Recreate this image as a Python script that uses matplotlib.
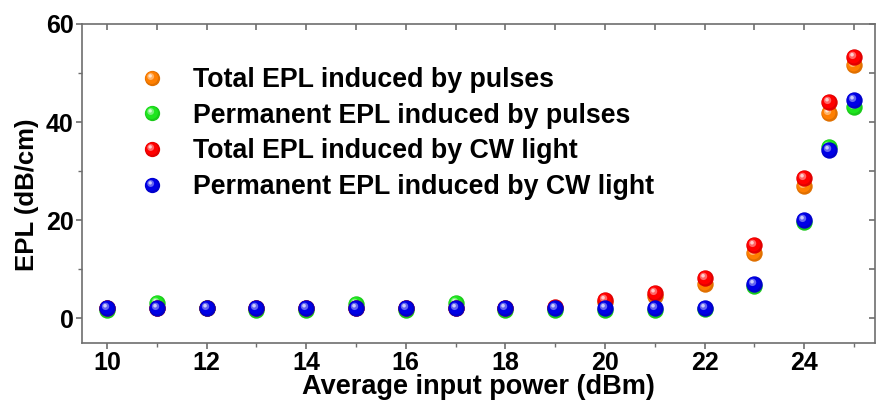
import matplotlib
matplotlib.use("Agg")
import matplotlib.pyplot as plt
from matplotlib.markers import MarkerStyle
from matplotlib.transforms import Affine2D
from matplotlib.lines import Line2D
from matplotlib.legend_handler import HandlerTuple
from matplotlib.ticker import MultipleLocator
import numpy as np

# ---- data ----
power = [10, 11, 12, 13, 14, 15, 16, 17, 18, 19, 20, 21, 22, 23, 24, 24.5, 25]
total_pulse = [2.0, 2.0, 2.0, 2.0, 2.0, 2.0, 2.0, 2.0, 2.0, 2.0, 3.3, 4.5, 7.0, 13.3, 26.9, 41.8, 51.6]
perm_pulse = [1.6, 3.0, 2.0, 1.6, 1.6, 2.8, 1.6, 3.0, 1.7, 1.7, 1.7, 1.7, 1.8, 6.6, 19.5, 34.8, 43.0]
total_cw = [2.0, 2.0, 2.0, 2.0, 2.0, 2.0, 2.0, 2.0, 2.0, 2.3, 3.7, 5.1, 8.2, 14.8, 28.5, 44.0, 53.3]
perm_cw = [2.0, 2.0, 2.0, 2.0, 2.0, 2.0, 2.0, 2.0, 2.0, 2.0, 2.0, 2.0, 2.0, 7.0, 19.9, 34.2, 44.5]

labels = ["Total EPL induced by pulses",
          "Permanent EPL induced by pulses",
          "Total EPL induced by CW light",
          "Permanent EPL induced by CW light"]
colors = ["#ff7f00", "#1ee61e", "#ff0000", "#0000e6"]
series = [total_pulse, perm_pulse, total_cw, perm_cw]

plt.rcParams['font.family'] = ['Liberation Sans', 'DejaVu Sans']
plt.rcParams['font.weight'] = 'bold'

fig = plt.figure(figsize=(8.77, 4.03), dpi=100)
ax = fig.add_axes([82/877, 60/403, (875-82)/877, (343-24)/403])

def mix(c, w, f):
    c = np.array(matplotlib.colors.to_rgb(c))
    return tuple(c * (1 - f) + np.array(w) * f)

# sphere layers: (scale, dx, dy, blend-to, fraction)
layers = [
    (1.00, 0.00, 0.00, (0, 0, 0), 0.12),
    (0.82, -0.05, 0.05, (1, 1, 1), 0.0),
    (0.45, -0.12, 0.13, (1, 1, 1), 0.40),
    (0.22, -0.15, 0.17, (1, 1, 1), 0.80),
]

def mstyle(sc, dx, dy):
    return MarkerStyle('o', transform=Affine2D().scale(sc).translate(dx, dy))

ms = 11.8
handles = []
for ys, c, lab in zip(series, colors, labels):
    hs = []
    for sc, dx, dy, w, f in layers:
        col = mix(c, w, f)
        ax.scatter(power, ys, s=ms**2, marker=mstyle(sc, dx, dy), color=col,
                   linewidths=0, zorder=3)
        hs.append(Line2D([], [], ls='none', marker=mstyle(sc, dx, dy), markersize=11,
                         markerfacecolor=col, markeredgewidth=0))
    handles.append(tuple(hs))

ax.legend(handles, labels, handler_map={tuple: HandlerTuple(ndivide=1)},
          loc='upper left', bbox_to_anchor=(139/877, 1 - 67/403),
          bbox_transform=fig.transFigure, frameon=False,
          prop={'family': 'Liberation Sans', 'weight': 'bold', 'size': 19.3},
          handlelength=1.0, handletextpad=1.0, labelspacing=0.36,
          borderpad=0, borderaxespad=0)

ax.set_xlim(9.5, 25.42)
ax.set_ylim(-5.1, 60)
ax.xaxis.set_major_locator(MultipleLocator(2))
ax.xaxis.set_minor_locator(MultipleLocator(1))
ax.yaxis.set_major_locator(MultipleLocator(20))
ax.yaxis.set_minor_locator(MultipleLocator(10))

spine_c = '#6e6e6e'
for s in ax.spines.values():
    s.set_color(spine_c)
    s.set_linewidth(1.2)

ax.tick_params(which='both', direction='out', colors=spine_c, labelcolor='black',
               top=False, right=False)
ax.tick_params(which='major', length=4, width=1.2, labelsize=18, pad=2)
ax.tick_params(which='minor', length=3, width=1.0)

# inward ticks on top and right
sec_x = ax.secondary_xaxis('top')
sec_x.xaxis.set_major_locator(MultipleLocator(1))
sec_x.tick_params(which='both', direction='in', length=4, width=1.2, colors=spine_c,
                  labeltop=False)
sec_x.spines['top'].set_visible(False)
sec_y = ax.secondary_yaxis('right')
sec_y.yaxis.set_major_locator(MultipleLocator(10))
sec_y.tick_params(which='both', direction='in', length=4, width=1.2, colors=spine_c,
                  labelright=False)
sec_y.spines['right'].set_visible(False)

for lab in ax.get_xticklabels() + ax.get_yticklabels():
    lab.set_fontweight('bold')

ax.set_xlabel("Average input power (dBm)", fontsize=19.5, fontweight='bold', labelpad=0)
ax.set_ylabel("EPL (dB/cm)", fontsize=18.5, fontweight='bold')
ax.xaxis.set_label_coords(0.5, -0.096)
ax.yaxis.set_label_coords(-0.054, 0.465)

fig.savefig("out.png", dpi=100)
